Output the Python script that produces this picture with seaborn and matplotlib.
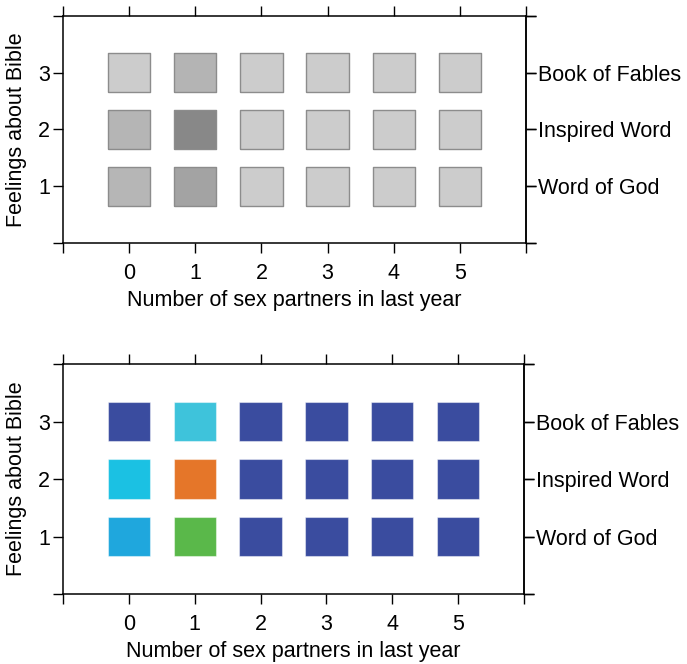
import pandas as pd
import matplotlib
matplotlib.use("Agg")
import matplotlib.pyplot as plt
from matplotlib.colors import LinearSegmentedColormap
import seaborn as sns

# Data: counts per (partners, feeling) cell
partners = [0, 1, 2, 3, 4, 5]
feeling_codes = [1, 2, 3]
feeling_labels = ["Word of God", "Inspired Word", "Book of Fables"]
word_of_god = [33, 60, 0, 0, 0, 0]
inspired_word = [34, 100, 0, 0, 0, 0]
book_of_fables = [0, 35, 0, 0, 0, 0]

rows = []
for code, vals in zip(feeling_codes, [word_of_god, inspired_word, book_of_fables]):
    for p, v in zip(partners, vals):
        rows.append({"partners": p, "feeling": code, "count": v})
df = pd.DataFrame(rows)

sns.set_style("ticks", {"axes.edgecolor": "black", "text.color": "black",
                        "xtick.color": "black", "ytick.color": "black",
                        "axes.labelcolor": "black"})
plt.rcParams["font.family"] = ["Liberation Sans", "DejaVu Sans"]
plt.rcParams["font.size"] = 15.5

gray_cmap = LinearSegmentedColormap.from_list("grays", ["#cccccc", "#888888"])
color_cmap = LinearSegmentedColormap.from_list(
    "rainbowish",
    [(0.0, "#3a4c9f"), (0.33, "#1fa7dd"), (0.34, "#16c1e4"),
     (0.35, "#42c3da"), (0.60, "#5ab84a"), (1.0, "#e57629")])

# rectangle marker, slightly wider than tall
rect = [(-1, -0.93), (1, -0.93), (1, 0.93), (-1, 0.93), (-1, -0.93)]

fig = plt.figure(figsize=(6.87, 6.64), dpi=100)
ax_top = fig.add_axes([0.0917, 0.634, 0.674, 0.342])
ax_bot = fig.add_axes([0.0917, 0.1054, 0.671, 0.3464])


def draw_panel(ax, cmap, edge, lw):
    sns.scatterplot(data=df, x="partners", y="feeling", hue="count",
                    palette=cmap, hue_norm=(0, 100), marker=rect, s=930,
                    edgecolor=edge, linewidth=lw, legend=False, ax=ax, zorder=3)
    ax.set_xlim(-1, 6)
    ax.set_ylim(0, 4)
    ax.set_xticks(range(-1, 7))
    ax.set_xticklabels([""] + [str(p) for p in partners] + [""])
    ax.set_yticks(range(0, 5))
    ax.set_yticklabels([""] + [str(c) for c in feeling_codes] + [""])
    for s in ax.spines.values():
        s.set_visible(True)
        s.set_linewidth(1.1)
        s.set_color("black")
    ax.tick_params(direction="out", length=7.5, width=1.0, top=True,
                   right=True, labeltop=False, labelright=False, colors="black")
    ax.tick_params(axis="x", pad=7)
    ax.tick_params(axis="y", pad=2)
    sec = ax.secondary_yaxis("right")
    sec.set_yticks(range(0, 5))
    sec.set_yticklabels([""] + feeling_labels + [""])
    sec.tick_params(direction="out", length=7.5, width=1.0, pad=1, colors="black")
    sec.spines["right"].set_linewidth(1.1)
    sec.spines["right"].set_color("black")
    ax.set_xlabel("Number of sex partners in last year", labelpad=4, color="black")
    ax.set_ylabel("Feelings about Bible", labelpad=8, color="black")


draw_panel(ax_top, gray_cmap, "#8c8c8c", 1.0)
draw_panel(ax_bot, color_cmap, (1, 1, 1, 0.45), 0.8)

fig.savefig("out.png", dpi=100)
